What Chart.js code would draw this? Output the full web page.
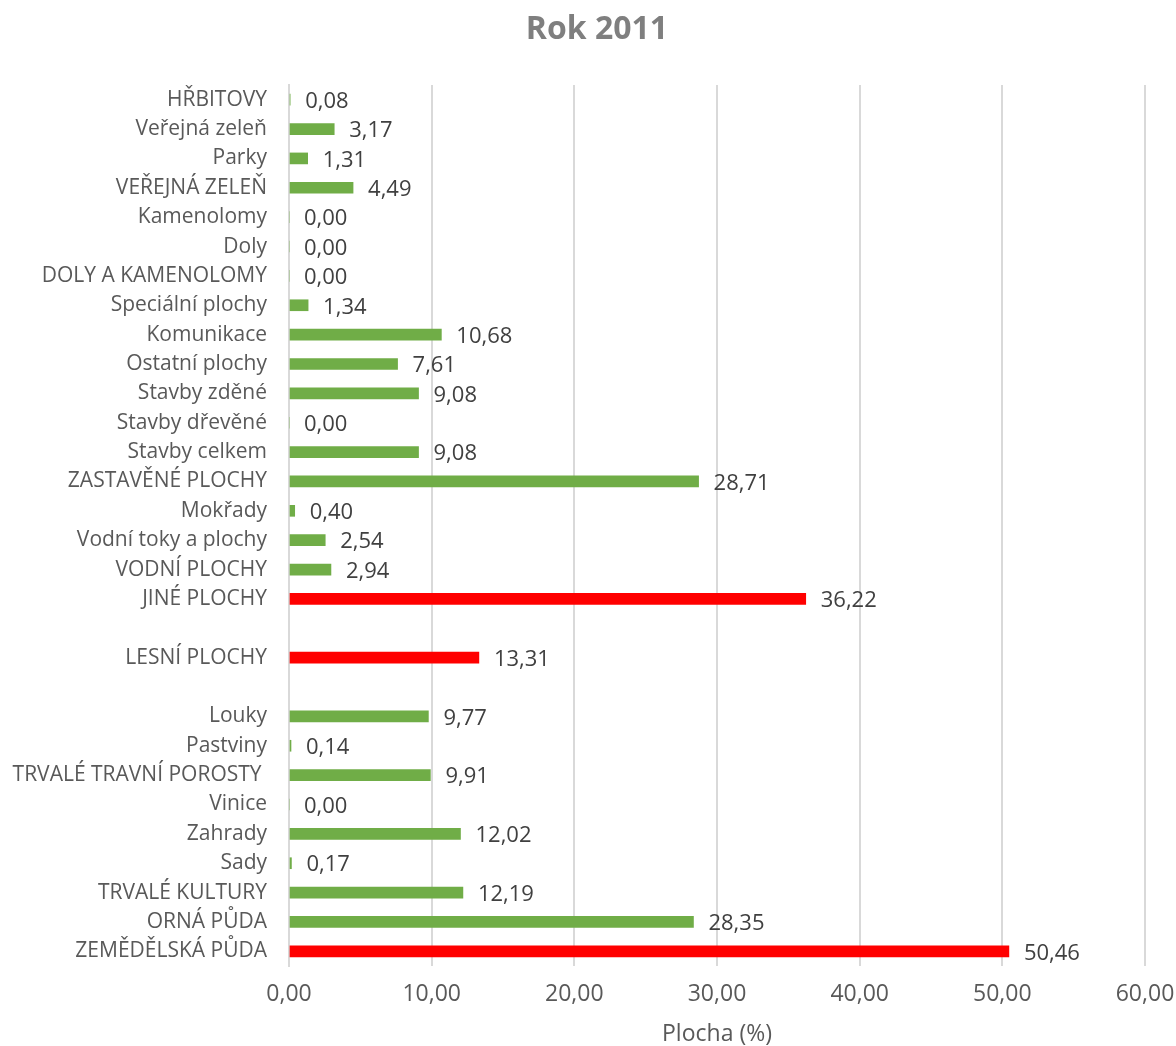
<!DOCTYPE html>
<html>
<head>
<meta charset="utf-8">
<script src="https://cdn.jsdelivr.net/npm/chart.js@4.4.1/dist/chart.umd.min.js"></script>
<style>
    html, body { margin: 0; padding: 0; background: #fff; }
    #wrap { width: 1176px; height: 1046px; }
</style>
</head>
<body>
<div id="wrap"><canvas id="chart"></canvas></div>
<script>
const chartTitle = 'Rok 2011';
const axisTitle = 'Plocha (%)';

// top to bottom, '' = empty row
const categories = [
    'HŘBITOVY', 'Veřejná zeleň', 'Parky', 'VEŘEJNÁ ZELEŇ', 'Kamenolomy', 'Doly',
    'DOLY A KAMENOLOMY', 'Speciální plochy', 'Komunikace', 'Ostatní plochy',
    'Stavby zděné', 'Stavby dřevěné', 'Stavby celkem', 'ZASTAVĚNÉ PLOCHY',
    'Mokřady', 'Vodní toky a plochy', 'VODNÍ PLOCHY', 'JINÉ PLOCHY', '',
    'LESNÍ PLOCHY', '', 'Louky', 'Pastviny', 'TRVALÉ TRAVNÍ POROSTY ', 'Vinice',
    'Zahrady', 'Sady', 'TRVALÉ KULTURY', 'ORNÁ PŮDA', 'ZEMĚDĚLSKÁ PŮDA'
];

const shares = [
    0.08, 3.17, 1.31, 4.49, 0.00, 0.00,
    0.00, 1.34, 10.68, 7.61,
    9.08, 0.00, 9.08, 28.71,
    0.40, 2.54, 2.94, 36.22, null,
    13.31, null, 9.77, 0.14, 9.91, 0.00,
    12.02, 0.17, 12.19, 28.35, 50.46
];

const mainGroups = ['JINÉ PLOCHY', 'LESNÍ PLOCHY', 'ZEMĚDĚLSKÁ PŮDA'];

const xTicks = [0, 10, 20, 30, 40, 50, 60];

const GREEN = '#70ad47';
const RED = '#ff0000';
const FONT = "'Open Sans', sans-serif";

const fmt = (v) => v.toFixed(2).replace('.', ',');

// value labels right of each bar
const valueLabels = {
    id: 'valueLabels',
    afterDatasetsDraw(chart) {
        const ctx = chart.ctx;
        const meta = chart.getDatasetMeta(0);
        ctx.save();
        ctx.font = `22px ${FONT}`;
        ctx.fillStyle = '#404040';
        ctx.textAlign = 'left';
        ctx.textBaseline = 'middle';
        meta.data.forEach((bar, i) => {
            const v = shares[i];
            if (v === null) return;
            ctx.fillText(fmt(v), bar.x + 15, bar.y + 2);
        });
        ctx.restore();
    }
};

// title drawn over the whole picture
const topTitle = {
    id: 'topTitle',
    afterDraw(chart) {
        const ctx = chart.ctx;
        ctx.save();
        ctx.font = `bold 32px ${FONT}`;
        ctx.fillStyle = '#7f7f7f';
        ctx.textAlign = 'center';
        ctx.textBaseline = 'middle';
        ctx.fillText(chartTitle, chart.width / 2 + 9, 30);
        ctx.restore();
    }
};

new Chart(document.getElementById('chart'), {
    type: 'bar',
    data: {
        labels: categories,
        datasets: [{
            data: shares,
            backgroundColor: categories.map(c => mainGroups.includes(c) ? RED : GREEN),
            borderWidth: 0,
            barThickness: 11
        }]
    },
    options: {
        indexAxis: 'y',
        responsive: true,
        maintainAspectRatio: false,
        animation: false,
        layout: { padding: { top: 85, right: 31, bottom: 0, left: 0 } },
        plugins: {
            legend: { display: false },
            title: { display: false },
            tooltip: { enabled: false }
        },
        scales: {
            x: {
                min: 0,
                max: 60,
                afterBuildTicks: (scale) => { scale.ticks = xTicks.map(v => ({ value: v })); },
                afterFit: (scale) => { scale.height = 80; scale.paddingRight = 0; },
                grid: { color: '#d9d9d9', lineWidth: 2, drawTicks: false },
                border: { display: false },
                ticks: {
                    padding: 15,
                    color: '#595959',
                    font: { family: FONT, size: 23 },
                    callback: (v) => fmt(v)
                },
                title: {
                    display: true,
                    text: axisTitle,
                    color: '#595959',
                    font: { family: FONT, size: 23, lineHeight: 1 },
                    padding: { top: 0, bottom: 0 }
                }
            },
            y: {
                z: 1,
                grid: { display: false, drawTicks: false },
                border: { display: true, color: '#d9d9d9', width: 2 },
                afterFit: (scale) => { scale.width = 289; },
                ticks: {
                    padding: 22,
                    autoSkip: false,
                    color: '#595959',
                    font: { family: FONT, size: 21 }
                }
            }
        }
    },
    plugins: [valueLabels, topTitle]
});
</script>
</body>
</html>
